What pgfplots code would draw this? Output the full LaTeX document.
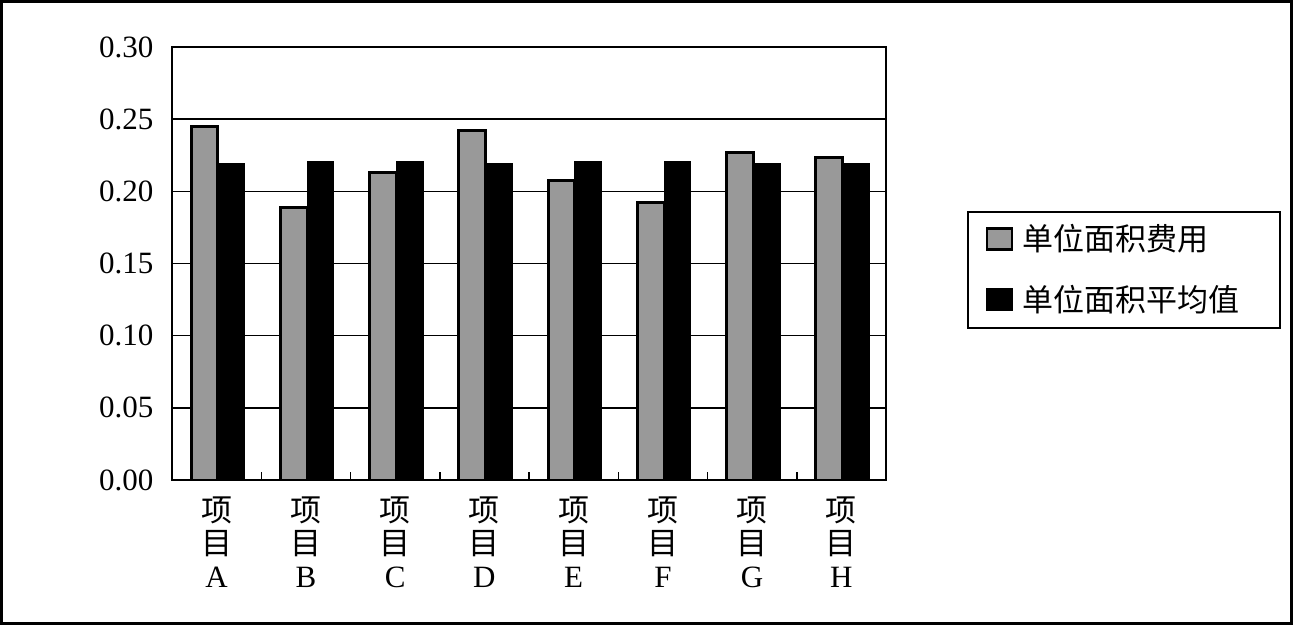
\documentclass[border=0pt]{standalone}
\usepackage{pgfplots}
\pgfplotsset{compat=1.18}
\usepackage{fontspec}
\setmainfont{Liberation Serif}
\newfontfamily\cjk{Noto Sans CJK SC}

\definecolor{bargray}{HTML}{999999}

\pgfplotstableread{
x   cost   avg
0.5 0.245  0.2195
1.5 0.189  0.2204
2.5 0.213  0.2204
3.5 0.242  0.2195
4.5 0.2074 0.2204
5.5 0.192  0.2204
6.5 0.2268 0.2195
7.5 0.2234 0.2195
}\datatable

\begin{document}
\begin{tikzpicture}
\fontsize{15.5bp}{18bp}\selectfont
% outer frame of the picture
\path (0,0) rectangle (646.5bp,312.5bp);
\draw[line width=1.5bp] (0.75bp,0.75bp) rectangle (645.75bp,311.75bp);
\begin{axis}[
  at={(86bp,72.5bp)}, anchor=south west,
  scale only axis,
  width=357bp, height=216.5bp,
  xmin=0, xmax=8,
  ymin=0, ymax=0.30,
  ytick={0,0.05,...,0.30},
  /pgf/number format/fixed,
  /pgf/number format/fixed zerofill,
  /pgf/number format/precision=2,
  /pgf/number format/assume math mode=true,
  yticklabel style={font=\fontsize{15.5bp}{18bp}\selectfont, xshift=-4bp},
  xtick={0.5,1.5,...,7.5},
  xticklabels={{\cjk 项\\\cjk 目\\A},{\cjk 项\\\cjk 目\\B},{\cjk 项\\\cjk 目\\C},{\cjk 项\\\cjk 目\\D},
               {\cjk 项\\\cjk 目\\E},{\cjk 项\\\cjk 目\\F},{\cjk 项\\\cjk 目\\G},{\cjk 项\\\cjk 目\\H}},
  xticklabel style={align=center, font=\fontsize{15.5bp}{16.5bp}\selectfont, yshift=-3bp},
  minor xtick={1,2,...,7},
  major tick length=0pt,
  minor tick length=4bp,
  tick align=inside,
  xtick pos=bottom, ytick pos=left,
  ymajorgrids,
  major grid style={black, line width=0.75bp},
  axis line style={black, line width=0.9bp},
  every minor tick/.style={black, line width=0.75bp},
  legend style={
    at={(1.1134,0.6212)}, anchor=north west,
    draw=black, line width=0.9bp,
    font=\cjk\fontsize{15.5bp}{18bp}\selectfont,
    inner xsep=9bp, inner ysep=4bp,
    row sep=11bp, column sep=2.5bp,
    legend cell align=left,
  },
  legend image code/.code={\draw[#1, line width=1.2bp] (0bp,-5bp) rectangle (12.5bp,5.5bp);},
]
\addplot[ybar, bar width=0.30, bar shift=-0.135, fill=bargray, draw=black, line width=1.5bp]
  table[x=x, y=cost] {\datatable};
\addlegendentry{单位面积费用}
\addplot[ybar, bar width=0.30, bar shift=0.165, fill=black, draw=black, line width=0.5bp]
  table[x=x, y=avg] {\datatable};
\addlegendentry{单位面积平均值\rule{9.5bp}{0pt}}
\end{axis}
\end{tikzpicture}
\end{document}
